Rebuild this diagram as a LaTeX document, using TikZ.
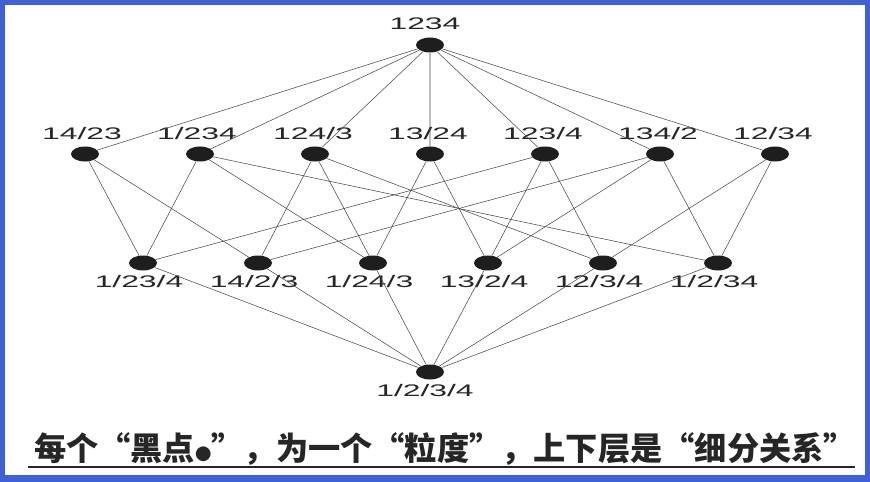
\documentclass[tikz,border=0pt]{standalone}
\usepackage{xcolor}
\usepackage{tikz}
\usepackage{fontspec}
\usetikzlibrary{shapes.geometric}
\newfontfamily\lblfont[FakeStretch=1.9]{Liberation Sans}
\newfontfamily\cjk{Noto Sans CJK SC}
\definecolor{frameBlue}{RGB}{64, 96, 216}
\definecolor{dotBlack} {RGB}{30, 30, 30}
\definecolor{edgeGray} {RGB}{70, 70, 70}

\tikzset{
  dot/.style={ellipse,fill=dotBlack,inner sep=0pt,
              minimum width=0.84cm,minimum height=0.45cm},
  lbl/.style={font=\lblfont\fontsize{14.3}{16}\selectfont,
              text=black!85,inner sep=0pt},
  edge/.style={edgeGray,line width=0.45pt}
}

\begin{document}
\begin{tikzpicture}[x=0.03cm,y=-0.03cm]

    % fond et cadre
    \fill[frameBlue] (0,0) rectangle (870,482);
    \fill[white] (5,5) rectangle (865,475);
    \useasboundingbox (0,0) rectangle (870,482);

    % ── niveau 0 ─────────────────────────────────────────
    \node[dot] (top) at (430,45) {};
    \node[lbl] (ltop) at (425,24) {1234};

    % ── niveau 1 ─────────────────────────────────────────
    \node[dot] (m1) at (85,154)  {};
    \node[dot] (m2) at (200,154) {};
    \node[dot] (m3) at (315,154) {};
    \node[dot] (m4) at (430,154) {};
    \node[dot] (m5) at (545,154) {};
    \node[dot] (m6) at (660,154) {};
    \node[dot] (m7) at (775,154) {};
    \node[lbl] (lm1) at (82,134)  {14/23};
    \node[lbl] (lm2) at (197,134) {1/234};
    \node[lbl] (lm3) at (313,134) {124/3};
    \node[lbl] (lm4) at (428,134) {13/24};
    \node[lbl] (lm5) at (543,134) {123/4};
    \node[lbl] (lm6) at (658,134) {134/2};
    \node[lbl] (lm7) at (773,134) {12/34};

    % ── niveau 2 ─────────────────────────────────────────
    \node[dot] (l1) at (143,263) {};
    \node[dot] (l2) at (258,263) {};
    \node[dot] (l3) at (373,263) {};
    \node[dot] (l4) at (488,263) {};
    \node[dot] (l5) at (603,263) {};
    \node[dot] (l6) at (718,263) {};
    \node[lbl] (ll1) at (139,282) {1/23/4};
    \node[lbl] (ll2) at (254,282) {14/2/3};
    \node[lbl] (ll3) at (369,282) {1/24/3};
    \node[lbl] (ll4) at (484,282) {13/2/4};
    \node[lbl] (ll5) at (599,282) {12/3/4};
    \node[lbl] (ll6) at (714,282) {1/2/34};

    % ── niveau 3 ─────────────────────────────────────────
    \node[dot] (bot) at (430,372) {};
    \node[lbl] (lbot) at (425,391) {1/2/3/4};

    % arêtes
    \draw[edge] (top) -- (m1) (top) -- (m2) (top) -- (m3) (top) -- (m4)
                (top) -- (m5) (top) -- (m6) (top) -- (m7);
    \draw[edge] (m1) -- (l1) (m1) -- (l2);
    \draw[edge] (m2) -- (l1) (m2) -- (l3) (m2) -- (l6);
    \draw[edge] (m3) -- (l2) (m3) -- (l3) (m3) -- (l5);
    \draw[edge] (m4) -- (l3) (m4) -- (l4);
    \draw[edge] (m5) -- (l1) (m5) -- (l4) (m5) -- (l5);
    \draw[edge] (m6) -- (l2) (m6) -- (l4) (m6) -- (l6);
    \draw[edge] (m7) -- (l5) (m7) -- (l6);
    \draw[edge] (l1) -- (bot) (l2) -- (bot) (l3) -- (bot)
                (l4) -- (bot) (l5) -- (bot) (l6) -- (bot);

    % légende
    \node[font=\cjk\bfseries\fontsize{27.5}{30}\selectfont,text=black!85,
          inner sep=0pt] (caption) at (445,449)
      {每个“黑点{\fontsize{14}{16}\selectfont ●}”，为一个“粒度”，上下层是“细分关系”};
    \coordinate (uleft) at (28,467);
    \coordinate (uright) at (855,467);
    \draw[black!85,line width=1.7pt] (uleft) -- (uright);

  \end{tikzpicture}
\end{document}
